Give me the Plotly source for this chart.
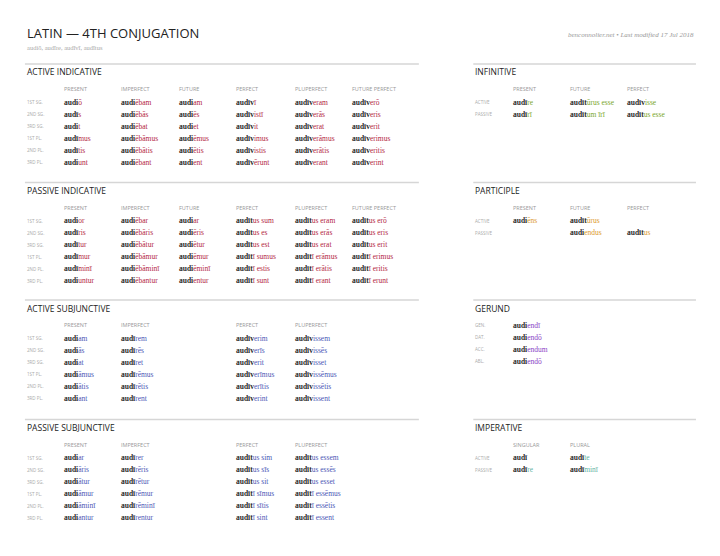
import plotly.graph_objects as go

W, H = 720, 556
persons = ["1ST SG.", "2ND SG.", "3RD SG.", "1ST PL.", "2ND PL.", "3RD PL."]
tenses6 = ["PRESENT", "IMPERFECT", "FUTURE", "PERFECT", "PLUPERFECT", "FUTURE PERFECT"]
tenses_subj = ["PRESENT", "IMPERFECT", "", "PERFECT", "PLUPERFECT", ""]

act_ind = [
    ["audi|ō", "audī|s", "audi|t", "audī|mus", "audī|tis", "audi|unt"],
    ["audi|ēbam", "audi|ēbās", "audi|ēbat", "audi|ēbāmus", "audi|ēbātis", "audi|ēbant"],
    ["audi|am", "audi|ēs", "audi|et", "audi|ēmus", "audi|ētis", "audi|ent"],
    ["audīv|ī", "audīv|istī", "audīv|it", "audīv|imus", "audīv|istis", "audīv|ērunt"],
    ["audīv|eram", "audīv|erās", "audīv|erat", "audīv|erāmus", "audīv|erātis", "audīv|erant"],
    ["audīv|erō", "audīv|eris", "audīv|erit", "audīv|erimus", "audīv|eritis", "audīv|erint"],
]
pas_ind = [
    ["audi|or", "audī|ris", "audī|tur", "audī|mur", "audī|minī", "audi|untur"],
    ["audi|ēbar", "audi|ēbāris", "audi|ēbātur", "audi|ēbāmur", "audi|ēbāminī", "audi|ēbantur"],
    ["audi|ar", "audi|ēris", "audi|ētur", "audi|ēmur", "audi|ēminī", "audi|entur"],
    ["audīt|us sum", "audīt|us es", "audīt|us est", "audīt|ī sumus", "audīt|ī estis", "audīt|ī sunt"],
    ["audīt|us eram", "audīt|us erās", "audīt|us erat", "audīt|ī erāmus", "audīt|ī erātis", "audīt|ī erant"],
    ["audīt|us erō", "audīt|us eris", "audīt|us erit", "audīt|ī erimus", "audīt|ī eritis", "audīt|ī erunt"],
]
act_subj = [
    ["audi|am", "audi|ās", "audi|at", "audi|āmus", "audi|ātis", "audi|ant"],
    ["audī|rem", "audī|rēs", "audī|ret", "audī|rēmus", "audī|rētis", "audī|rent"],
    [],
    ["audīv|erim", "audīv|erīs", "audīv|erit", "audīv|erīmus", "audīv|erītis", "audīv|erint"],
    ["audīv|issem", "audīv|issēs", "audīv|isset", "audīv|issēmus", "audīv|issētis", "audīv|issent"],
    [],
]
pas_subj = [
    ["audi|ar", "audi|āris", "audi|ātur", "audi|āmur", "audi|āminī", "audi|antur"],
    ["audī|rer", "audī|rēris", "audī|rētur", "audī|rēmur", "audī|rēminī", "audī|rentur"],
    [],
    ["audīt|us sim", "audīt|us sīs", "audīt|us sit", "audīt|ī sīmus", "audīt|ī sītis", "audīt|ī sint"],
    ["audīt|us essem", "audīt|us essēs", "audīt|us esset", "audīt|ī essēmus", "audīt|ī essētis", "audīt|ī essent"],
    [],
]
voices = ["ACTIVE", "PASSIVE"]
inf_tenses = ["PRESENT", "FUTURE", "PERFECT"]
infinitive = [["audī|re", "audī|rī"], ["audīt|ūrus esse", "audīt|um īrī"], ["audīv|isse", "audīt|us esse"]]
participle = [["audi|ēns", ""], ["audīt|ūrus", "audi|endus"], ["", "audīt|us"]]
cases = ["GEN.", "DAT.", "ACC.", "ABL."]
gerund = [["audi|endī", "audi|endō", "audi|endum", "audi|endō"]]
imp_numbers = ["SINGULAR", "PLURAL"]
imperative = [["audī|", "audī|re"], ["audī|te", "audī|minī"]]

RED, BLUE, GREEN, ORANGE, PURPLE, TEAL = "#b3263f", "#4b57b5", "#7aa62c", "#dc9a2c", "#8a3fc6", "#5fb3a3"
STEM = "#2a2a2a"
SERIF = "Liberation Serif"
SANS = "Open Sans"

ann, shapes = [], []

# compensate for rendering offset/scale observed
def px(x): return ((x - 10.2) / 0.9925) / W
def py(y): return 1 - ((y - 7.3) / 0.9956) / H

def text(x, y, t, size=7, color=STEM, family=SANS, anchor="left"):
    ann.append(dict(x=px(x), y=py(y), xref="paper", yref="paper", text=t, showarrow=False,
                    xanchor=anchor, yanchor="middle", font=dict(size=size, color=color, family=family)))

def form(x, y, f, col):
    if not f:
        return
    stem, end = f.split("|")
    text(x, y, f"<span style='color:{STEM}'><b>{stem}</b></span><span style='color:{col}'>{end}</span>",
         size=7.5, family=SERIF)

def section(title, x0, x1, yline, cols_x, headers, rowlabels, data, col, hdr=True):
    shapes.append(dict(type="line", xref="paper", yref="paper", x0=px(x0), x1=px(x1), y0=py(yline), y1=py(yline),
                       line=dict(color="#d6d6d6", width=1.5)))
    text(x0, yline + 8, title, size=8.5, color="#222")
    yr = yline + 25
    if hdr:
        for cx, h in zip(cols_x, headers):
            text(cx, yr, h, size=5.5, color="#999")
        yr += 13
    for i, lab in enumerate(rowlabels):
        text(x0, yr + i * 12, lab, size=4.5, color="#aaa")
    for cx, colforms in zip(cols_x, data):
        for i, f in enumerate(colforms):
            form(cx, yr + i * 12, f, col)

LX = [64, 120, 178, 235, 293, 350]
section("ACTIVE INDICATIVE", 27, 418, 63, LX, tenses6, persons, act_ind, RED)
section("PASSIVE INDICATIVE", 27, 418, 181, LX, tenses6, persons, pas_ind, RED)
section("ACTIVE SUBJUNCTIVE", 27, 418, 298, LX, tenses_subj, persons, act_subj, BLUE)
section("PASSIVE SUBJUNCTIVE", 27, 418, 417, LX, tenses_subj, persons, pas_subj, BLUE)
RX = [509, 566, 623]
section("INFINITIVE", 472, 693, 63, RX, inf_tenses, voices, infinitive, GREEN)
section("PARTICIPLE", 472, 693, 181, RX, inf_tenses, voices, participle, ORANGE)
section("GERUND", 472, 693, 298, RX, [], cases, gerund, PURPLE, hdr=False)
section("IMPERATIVE", 472, 693, 417, RX, imp_numbers, voices, imperative, TEAL)

text(27, 32, "LATIN — 4TH CONJUGATION", size=13, color="#222")
text(27, 47, "audiō, audīre, audīvī, audītus", size=6.5, color="#aaa", family=SERIF)
text(693, 34, "<i>benconnolier.net • Last modified 17 Jul 2018</i>", size=7, color="#999", family=SERIF, anchor="right")

fig = go.Figure()
fig.update_layout(width=W, height=H, margin=dict(l=0, r=0, t=0, b=0), paper_bgcolor="white", plot_bgcolor="white",
                  xaxis=dict(visible=False), yaxis=dict(visible=False), annotations=ann, shapes=shapes, showlegend=False)
fig.write_html("out.html")
